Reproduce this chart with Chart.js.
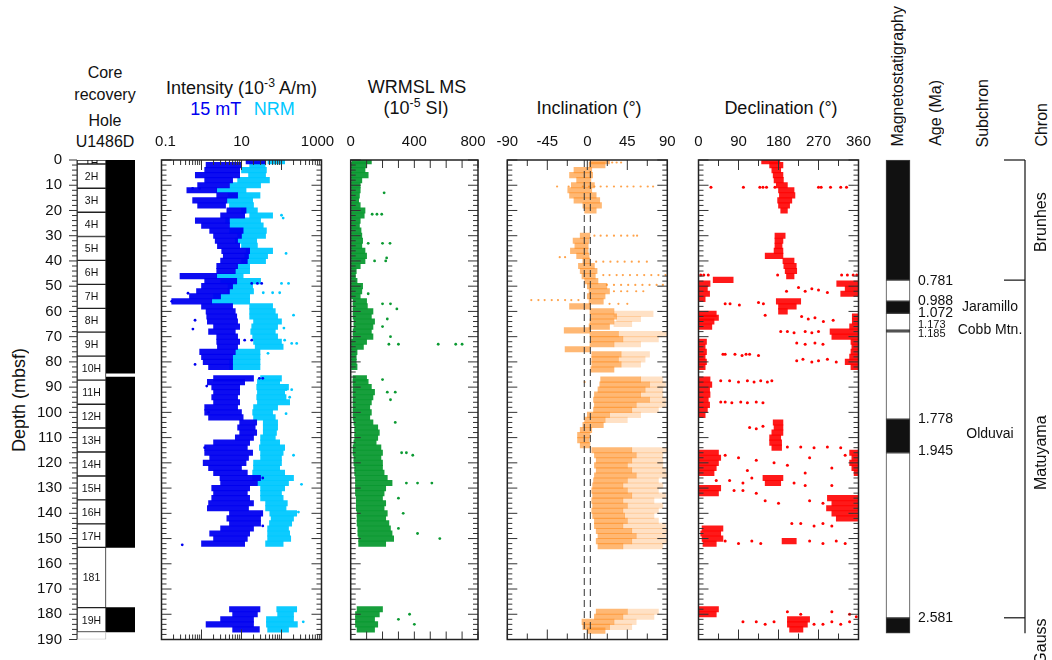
<!DOCTYPE html>
<html>
<head>
<meta charset="utf-8">
<script src="https://cdn.jsdelivr.net/npm/chart.js@4.4.0/dist/chart.umd.min.js"></script>
<style>
body { margin: 0; background: #fff; }
#wrap { position: relative; width: 1052px; height: 660px; overflow: hidden; font-family: "Liberation Sans", Arial, sans-serif; color: #111; }
canvas { position: absolute; top: 0; }
.t { position: absolute; transform: translate(-50%, -50%); white-space: nowrap; font-size: 18px; }
.s { font-size: 16px; }
.v { position: absolute; writing-mode: vertical-rl; transform: rotate(180deg); white-space: nowrap; font-size: 16px; line-height: 20px; }
sup { font-size: 0.68em; vertical-align: 0.5em; line-height: 0; }
</style>
</head>
<body>
<div id="wrap">
  <div class="t s" style="left:105px;top:73px">Core</div>
  <div class="t s" style="left:105px;top:95px">recovery</div>
  <div class="t s" style="left:105px;top:121px">Hole</div>
  <div class="t s" style="left:105px;top:142px">U1486D</div>
  <div class="t" style="left:241.5px;top:88px">Intensity (10<sup>-3</sup> A/m)</div>
  <div class="t" style="left:215.7px;top:109px;color:#0000f0">15 mT</div>
  <div class="t" style="left:274.3px;top:109px;color:#00c8ff">NRM</div>
  <div class="t" style="left:417px;top:87px">WRMSL MS</div>
  <div class="t" style="left:416px;top:108px">(10<sup>-5</sup> SI)</div>
  <div class="t" style="left:589px;top:108px">Inclination (°)</div>
  <div class="t" style="left:781px;top:108px">Declination (°)</div>
  <div class="v" style="left:888px;bottom:513px">Magnetostatigraphy</div>
  <div class="v" style="left:926px;bottom:514px">Age (Ma)</div>
  <div class="v" style="left:973px;bottom:513px">Subchron</div>
  <div class="v" style="left:1031.5px;bottom:513px">Chron</div>
  <div class="v" style="left:8px;top:300px;height:200px;text-align:center;font-size:18px;line-height:22px">Depth (mbsf)</div>

  <canvas id="core" width="150" height="660" style="left:0px"></canvas>
  <canvas id="inten" width="200" height="660" style="left:140px"></canvas>
  <canvas id="ms" width="170" height="660" style="left:330px"></canvas>
  <canvas id="inc" width="190" height="660" style="left:490px"></canvas>
  <canvas id="dec" width="195" height="660" style="left:680px"></canvas>
  <canvas id="strat" width="192" height="660" style="left:860px"></canvas>
</div>

<script>
const FONT = '"Liberation Sans", Arial, sans-serif'

// ---- depth axis / cores ----
const depthLabels = [0, 10, 20, 30, 40, 50, 60, 70, 80, 90, 100, 110, 120, 130, 140, 150, 160, 170, 180, 190]
const coreNames = ['1H', '2H', '3H', '4H', '5H', '6H', '7H', '8H', '9H', '10H', '11H', '12H', '13H', '14H', '15H', '16H', '17H', '181', '19H', '']
const coreTops = [0, 1.6, 11.2, 20.7, 30.3, 39.8, 49.3, 58.8, 68.2, 77.7, 87.2, 96.8, 106.2, 115.7, 125.2, 134.7, 144.2, 153.5, 177.4, 187]
const coreBottoms = [1.6, 11.2, 20.7, 30.3, 39.8, 49.3, 58.8, 68.2, 77.7, 87.2, 96.8, 106.2, 115.7, 125.2, 134.7, 144.2, 153.5, 177.4, 187, 190]
const recovered = [[0, 84.5], [86, 153.5], [177.4, 187]]

// ---- intensity (10^-3 A/m): [depth, low, high] ----
const int15mT = [
  [0.5, 13, 40], [2, 1.3, 10], [4, 1.2, 9], [6, 0.7, 9], [8, 1.2, 6], [10, 0.8, 5], [12, 0.43, 2.4], [14, 2.4, 8],
  [16, 0.6, 4.3], [18, 0.8, 4], [20, 4.3, 13], [22, 3, 12], [24, 0.7, 5], [26, 1, 5], [28, 1.6, 11], [30, 2, 10],
  [32, 2.2, 8], [34, 2.5, 9], [36, 3.2, 16], [38, 3.5, 15], [40, 3, 14], [42, 2.4, 8], [44, 2.4, 7], [46, 0.29, 2.4],
  [48, 1.2, 7.6], [50, 1, 6], [52, 0.75, 5], [54, 0.5, 3], [56, 0.18, 1.8], [58, 1, 6], [60, 1.3, 7], [62, 1.35, 7.6],
  [64, 1.4, 8], [66, 2, 9], [68, 1.5, 7], [70, 2.4, 8], [72, 2.4, 9], [74, 2.5, 8], [76, 0.9, 7], [78, 1, 6],
  [80, 1.1, 6], [82, 1.5, 6],
  [86.5, 2, 20], [88, 1.4, 12], [90, 1.8, 9], [92, 2, 9], [94, 1.8, 8], [96, 2, 9], [98, 1.2, 8], [100, 1.2, 10],
  [102, 1.5, 11], [104, 9, 24], [106, 8, 22], [108, 9, 24], [110, 7, 20], [112, 2, 16], [114, 1.2, 14], [116, 1.2, 19],
  [118, 1.6, 15], [120, 1.1, 13], [122, 1.5, 10], [124, 2, 14], [126, 2.9, 30], [128, 3, 25], [130, 1.8, 16], [132, 2, 14],
  [134, 1.8, 16], [136, 1.5, 20], [138, 1.4, 15], [140, 5, 34], [142, 4.3, 30], [144, 5, 30], [146, 3, 20], [148, 1.6, 16],
  [150, 2, 14], [152, 1, 12],
  [178, 5, 29], [180, 6, 25], [182, 3, 20], [184, 1.3, 20], [186, 6, 28]
]
const intNRM = [
  [0.5, 46, 120], [2, 16, 39], [4, 10, 42], [6, 15, 40], [8, 8, 50], [10, 5, 30], [12, 2.4, 13], [14, 4.6, 29],
  [16, 4.3, 19], [18, 5, 20], [20, 10, 25], [22, 16, 60], [24, 4, 30], [26, 5, 35], [28, 5, 42], [30, 8, 40],
  [32, 7, 24], [34, 10, 25], [36, 13, 60], [38, 12, 45], [40, 10, 40], [42, 7.6, 16], [44, 7, 16], [46, 2.4, 11],
  [48, 3, 30], [50, 4.6, 19], [52, 4.6, 20], [54, 2, 16], [56, 1.8, 16], [58, 16, 60], [60, 16, 70], [62, 16, 80],
  [64, 20, 100], [66, 18, 80], [68, 17, 70], [70, 19, 80], [72, 20, 100], [74, 22, 110], [76, 7, 29], [78, 6, 29],
  [80, 5, 29], [82, 5, 29],
  [86.5, 30, 100], [88, 25, 90], [90, 24, 150], [92, 25, 120], [94, 24, 130], [96, 25, 160], [98, 20, 80], [100, 19, 60],
  [102, 20, 70], [104, 35, 80], [106, 35, 80], [108, 35, 75], [110, 30, 70], [112, 30, 90], [114, 28, 120], [116, 30, 110],
  [118, 30, 100], [120, 20, 100], [122, 20, 90], [124, 19, 120], [126, 19, 200], [128, 25, 150], [130, 30, 120], [132, 30, 100],
  [134, 30, 110], [136, 40, 140], [138, 40, 130], [140, 51, 240], [142, 55, 200], [144, 50, 180], [146, 45, 150], [148, 45, 160],
  [150, 45, 170], [152, 40, 110],
  [178, 76, 240], [180, 80, 200], [182, 42, 200], [184, 42, 250], [186, 45, 150]
]
const int15mTDots = [
  [11.3, 0.6], [11.3, 0.9], [52.8, 0.46], [56, 0.18], [63.5, 0.69], [67, 0.61], [81, 0.69], [89.6, 1.35], [100, 1.5],
  [114, 1.2], [152.5, 0.33], [48.9, 18], [48.9, 25], [48.9, 32], [71.4, 12], [71.4, 18], [86.5, 28], [86.5, 34], [126, 34], [145, 34]
]
const intNRMDots = [
  [21.9, 100], [23, 110], [37, 130], [48.9, 100], [48.9, 150], [52.6, 35], [52.6, 60], [52.6, 90], [61.5, 200], [66.6, 115],
  [71.4, 120], [72.7, 180], [72.7, 240], [76.6, 46], [91, 130], [91, 180], [94, 160], [100.5, 130], [117, 200], [128.5, 316],
  [139.5, 265], [183, 350]
]

// ---- WRMSL MS (10^-5 SI): [depth, low, high] ----
const msRows = [
  [0.5, 10, 130], [2, 5, 100], [4, 5, 90], [6, 5, 110], [8, 5, 70], [10, 5, 60], [12, 5, 60], [14, 5, 55],
  [16, 5, 50], [18, 5, 60], [20, 5, 90], [22, 5, 85], [24, 5, 60], [26, 5, 55], [28, 5, 65], [30, 5, 70],
  [32, 5, 75], [34, 5, 70], [36, 5, 90], [38, 5, 100], [40, 5, 90], [42, 5, 60], [44, 5, 35], [46, 5, 30],
  [48, 5, 40], [50, 5, 75], [52, 5, 70], [54, 5, 60], [56, 15, 100], [58, 15, 105], [60, 15, 140], [62, 15, 130],
  [64, 20, 150], [66, 20, 140], [68, 15, 130], [70, 15, 140], [72, 5, 100], [74, 5, 80], [76, 5, 40], [78, 5, 35],
  [80, 5, 35], [82, 5, 40],
  [86.5, 15, 100], [88, 15, 110], [90, 15, 130], [92, 15, 150], [94, 15, 140], [96, 15, 130], [98, 15, 120], [100, 15, 130],
  [102, 15, 120], [104, 20, 140], [106, 25, 170], [108, 25, 180], [110, 25, 170], [112, 20, 160], [114, 15, 190], [116, 15, 200],
  [118, 20, 190], [120, 20, 200], [122, 25, 200], [124, 25, 210], [126, 30, 230], [128, 30, 260], [130, 30, 220], [132, 30, 210],
  [134, 35, 200], [136, 35, 220], [138, 35, 210], [140, 40, 230], [142, 40, 220], [144, 40, 240], [146, 45, 250], [148, 45, 260],
  [150, 50, 270], [152, 50, 220],
  [178, 40, 200], [180, 30, 180], [182, 30, 150], [184, 30, 170], [186, 40, 150]
]
const msDots = [
  [13, 210], [21.5, 135], [21.5, 165], [21.5, 195], [38.8, 226], [33, 110], [33, 200], [33, 247], [40, 150], [40, 220],
  [53, 110], [57, 200], [57, 250], [59, 290], [63, 230], [66, 200], [70, 250], [73, 550], [73, 660], [73, 700], [73, 300],
  [73, 240], [87, 200], [92, 230], [92, 280], [95, 250], [104, 280], [116, 320], [116, 350], [117, 390], [128, 350],
  [128, 420], [128, 510], [134, 300], [140, 330], [146, 300], [148, 420], [150, 560], [180, 370], [182, 300], [184, 400]
]

// ---- inclination (°) ----
const incDense = [
  [0.5, 3, 25], [2, 2, 20], [4, -15, 5], [6, -20, 6], [8, -12, 4], [10, -18, 8], [12, -22, 5], [14, -20, 10], [16, -15, 14],
  [18, -5, 16], [20, -3, 10],
  [30, -8, 3], [32, -16, 2], [34, -14, 1], [36, -19, 1], [38, -12, 2], [40, -5, 3], [42, -10, 8], [44, -8, 11], [46, -6, 9],
  [48, -3, 12], [50, 0, 22], [52, 2, 25], [54, 0, 20], [56, 2, 18], [58, -20, 3], [60, 3, 30], [62, 4, 33], [64, 3, 30],
  [66, 2, 25], [67.5, -26, 3], [69, 3, 35], [71, 4, 40], [73, 3, 30], [75, -25, 3], [77, 5, 38], [79, 5, 35], [81, 5, 38],
  [83, 4, 30],
  [87, 15, 60], [89, 14, 70], [91, 12, 65], [93, 8, 60], [95, 7, 70], [97, 8, 55], [99, 7, 50], [101, 0, 25], [103, -3, 20],
  [105, -5, 18], [107, -8, 5], [109, -11, 3], [111, -11, 2], [113, -8, 3],
  [115, 5, 50], [117, 8, 55], [119, 10, 50], [121, 8, 45], [123, 10, 50], [125, 8, 55], [127, 7, 45], [129, 6, 40], [131, 5, 45],
  [133, 6, 50], [135, 5, 40], [137, 6, 45], [139, 5, 40], [141, 6, 42], [143, 8, 45], [145, 8, 40], [147, 10, 50], [149, 12, 55],
  [151, 10, 50], [153, 12, 40],
  [179, 10, 45], [181, 8, 40], [183, -6, 30], [185, -5, 25], [186.5, 0, 20]
]
const incSparse = [
  [61, 30, 74], [63, 33, 60], [65, 30, 50], [69, 35, 90], [71, 40, 80], [73, 30, 60], [77, 38, 70], [79, 35, 65], [81, 38, 60],
  [87, 60, 85], [89, 70, 88], [91, 65, 85], [93, 60, 85], [95, 70, 88], [97, 55, 88], [99, 50, 80], [101, 25, 60], [103, 20, 45],
  [115, 50, 90], [117, 55, 85], [119, 50, 85], [121, 45, 85], [123, 50, 88], [125, 55, 90], [127, 45, 80], [129, 40, 85],
  [131, 45, 80], [133, 50, 88], [135, 40, 75], [137, 45, 85], [139, 40, 80], [141, 42, 75], [143, 45, 80], [145, 40, 88],
  [147, 50, 90], [149, 55, 88], [151, 50, 90], [153, 40, 85],
  [179, 45, 80], [181, 40, 75], [183, 30, 55], [185, 25, 50]
]
const incDots = [
  [1, 28], [1, 33], [1, 38],
  [10.5, -34], [10.5, -21], [10.5, -5], [10.5, 2], [10.5, 8], [10.5, 15], [10.5, 22], [10.5, 30], [10.5, 38], [10.5, 45],
  [10.5, 52], [10.5, 60], [10.5, 68], [10.5, 74],
  [30, 8], [30, 15], [30, 22], [30, 30], [30, 38], [30, 45], [30, 52], [30, 56],
  [40.3, 10], [40.3, 18], [40.3, 26], [40.3, 34], [40.3, 42], [40.3, 50], [40.3, 58], [40.3, 67],
  [45.6, 18], [45.6, 25], [45.6, 33], [45.6, 40], [45.6, 48], [45.6, 56], [45.6, 64], [45.6, 72], [45.6, 80], [45.6, 88],
  [49.5, 22], [49.5, 30], [49.5, 38], [49.5, 46], [49.5, 54], [49.5, 62], [49.5, 70], [49.5, 78], [49.5, 85],
  [52, 30], [52, 38], [52, 45], [52, 55], [52, 63], [57, 25], [57, 35], [57, 45],
  [55.5, -63], [55.5, -55], [55.5, -48], [55.5, -40], [55.5, -33], [55.5, -25], [55.5, -18], [55.5, -10],
  [38.5, -31], [38.5, -25], [88, -3], [112, 90]
]
const incRefLines = [-3.4, 3.4]

// ---- declination (°) ----
const decDense = [
  [0.5, 142, 183], [2, 160, 190], [4, 165, 185], [6, 168, 190], [8, 170, 191], [10, 175, 200], [12, 180, 215], [14, 182, 217],
  [16, 178, 210], [18, 180, 205], [20, 185, 200],
  [30, 172, 195], [32, 172, 190], [34, 172, 188], [36, 170, 190], [38, 150, 190], [40, 190, 215], [42, 192, 220], [44, 195, 221],
  [46, 198, 215], [47.5, 33, 78],
  [49, 0, 26], [49, 311, 359], [51, 0, 20], [51, 330, 360], [53, 0, 25], [53, 320, 360], [55, 0, 15],
  [56, 175, 230], [58, 180, 220], [60, 180, 200],
  [61, 0, 40], [62.5, 0, 45], [64, 0, 35], [66, 0, 30], [62, 346, 360], [64, 346, 360], [66, 340, 360], [68, 296, 360], [70, 300, 360],
  [72, 0, 18], [74, 0, 15], [76, 0, 18], [78, 0, 15], [80, 0, 18], [82, 0, 15],
  [72, 343, 360], [74, 345, 360], [76, 343, 360], [78, 340, 360], [80, 330, 360], [82, 343, 360],
  [87, 0, 26], [89, 0, 30], [91, 0, 25], [93, 0, 26], [95, 0, 22], [97, 0, 25], [99, 0, 20], [101, 0, 15],
  [104, 168, 190], [106, 170, 190], [108, 165, 190], [110, 160, 185], [112, 160, 187], [114, 165, 187],
  [116, 0, 45], [118, 0, 50], [120, 0, 45], [122, 0, 40], [124, 0, 35],
  [116, 340, 360], [118, 345, 360], [120, 340, 360], [122, 345, 360], [124, 350, 360],
  [126, 145, 190], [128, 150, 185], [130, 0, 50], [132, 0, 45],
  [134, 290, 359], [136, 300, 360], [138, 288, 360], [140, 300, 358], [142, 310, 358],
  [146, 8, 55], [148, 5, 50], [150, 8, 55], [152, 10, 40], [151, 188, 220],
  [178, 0, 45], [180, 0, 40], [182, 200, 250], [184, 200, 245], [186, 205, 235]
]
const decDots = [
  [10.8, 28], [10.8, 101], [10.8, 138], [10.8, 145], [10.8, 153], [10.8, 172], [10.8, 270], [10.8, 276], [10.8, 297], [10.8, 320], [10.8, 333],
  [45.6, 5], [45.6, 12], [45.6, 22], [45.6, 178], [45.6, 322], [45.6, 335], [45.6, 348], [45.6, 356],
  [50.5, 225], [51, 255], [52, 198], [52, 240], [52.5, 290], [51.5, 270],
  [57, 60], [57, 71], [57.5, 92], [56.5, 135], [57, 146],
  [62, 232], [63, 247], [62.5, 262], [64, 281], [63.5, 303], [61.5, 150],
  [68, 185], [68, 200], [68.5, 215], [68, 240], [68.5, 255], [68, 270],
  [72.5, 221], [73, 240], [72.5, 262], [73, 280],
  [77, 55], [77, 60], [77, 82], [77.5, 98], [77, 107], [77, 115], [77.5, 135],
  [79.5, 221], [79, 235], [80, 255], [79.5, 270], [79, 290], [80, 310],
  [87.5, 50], [87.5, 70], [88, 90], [87.5, 110], [88, 125], [87.5, 140], [88, 155], [87.5, 165],
  [95.9, 50], [95.9, 60], [96.2, 75], [95.9, 95], [96.2, 110], [95.9, 130], [96.2, 145],
  [106, 115], [106.5, 130], [105.5, 145],
  [113.7, 200], [113.7, 230], [114, 260], [113.7, 290], [114, 320],
  [117, 60], [118, 90], [119, 130], [120, 170], [121, 200], [118, 250], [122, 300], [117, 330], [123, 110], [124, 240],
  [127, 40], [127, 70], [128, 100], [126, 120], [128, 215], [129, 240], [129, 300],
  [131, 80], [131, 100], [132, 130], [135, 150], [136, 180], [135, 250], [136, 280],
  [144, 210], [144, 230], [145, 260], [144, 280], [145, 300],
  [151, 60], [152, 90], [151, 120], [152, 140], [151, 250], [152, 280], [151, 310], [152, 330],
  [179, 200], [180, 230], [179, 300], [180, 340], [181, 355],
  [183, 100], [183, 130], [184, 150], [183, 170], [184, 260], [184, 280], [183, 300], [184, 320], [183, 340]
]

// ---- magnetostratigraphy ----
const polTops = [0, 47.6, 55.9, 60.8, 67.4, 68.1, 102.7, 116, 181.4]
const polBottoms = [47.6, 55.9, 60.8, 67.4, 68.1, 102.7, 116, 181.4, 187.5]
const polNormal = [true, false, true, false, true, false, true, false, true]
const ageLabels = ['0.781', '0.988', '1.072', '1.173', '1.185', '1.778', '1.945', '2.581']
const ageDepths = [48, 55.9, 60.7, 65.4, 69, 102.7, 115.4, 181.7]
const ageSmall = [false, false, false, true, true, false, false, false]
const subchrons = ['Jaramillo', 'Cobb Mtn.', 'Olduvai']
const subchronDepths = [58.3, 67.4, 108.7]
const chrons = ['Brunhes', 'Matuyama', 'Gauss']
const chronDepths = [24.6, 116, 190.8]
const chronBounds = [0, 47.6, 181.4]

// ---------- helpers ----------
const depthMinor = []
for (let d = 0; d <= 190; d += 2) depthMinor.push(d)

function line(ctx, x1, y1, x2, y2) {
  ctx.beginPath(); ctx.moveTo(x1, y1); ctx.lineTo(x2, y2); ctx.stroke()
}

const frameTicks = {
  id: 'frameTicks',
  afterDatasetsDraw(chart, args, o) {
    const {ctx, chartArea: a, scales: {x, y}} = chart
    ctx.save()
    ctx.strokeStyle = '#333'
    ctx.lineWidth = 1
    depthMinor.forEach(v => {
      const py = y.getPixelForValue(v)
      const len = v % 10 === 0 ? 10 : 5
      line(ctx, a.left, py, a.left + len, py)
      line(ctx, a.right, py, a.right - len, py)
    })
    ;(o.xMinor || []).forEach(v => {
      const px = x.getPixelForValue(v)
      line(ctx, px, a.top, px, a.top + o.minorLen)
      line(ctx, px, a.bottom, px, a.bottom - o.minorLen)
    })
    ;(o.xMajor || []).forEach(v => {
      const px = x.getPixelForValue(v)
      line(ctx, px, a.top, px, a.top + o.majorLen)
      line(ctx, px, a.bottom, px, a.bottom - o.majorLen)
    })
    ;(o.refLines || []).forEach(v => {
      const px = x.getPixelForValue(v)
      ctx.setLineDash([7, 4])
      line(ctx, px, a.top, px, a.bottom)
      ctx.setLineDash([])
    })
    ctx.lineWidth = 1.5
    ctx.strokeStyle = '#222'
    ctx.strokeRect(a.left, a.top, a.right - a.left, a.bottom - a.top)
    ctx.fillStyle = '#111'
    ctx.font = '15px ' + FONT
    ctx.textAlign = 'center'
    ctx.textBaseline = 'middle'
    o.labels.forEach((t, i) => ctx.fillText(t, x.getPixelForValue(o.labelValues[i]) + (o.labelShift ? o.labelShift[i] : 0), 142))
    ctx.restore()
  }
}

function depthScale() {
  return {type: 'linear', display: false, min: 0, max: 190, reverse: true, offset: false}
}

function rangeBars(rows, color, order, thick) {
  return {
    type: 'bar', indexAxis: 'y', grouped: false, clip: 0, order: order,
    data: rows.map(r => ({y: r[0], x: [r[1], r[2]]})),
    backgroundColor: color, borderWidth: 0, barThickness: thick || 5.5
  }
}

function dots(pts, color, order, r) {
  return {
    type: 'scatter', order: order,
    data: pts.map(p => ({y: p[0], x: p[1]})),
    backgroundColor: color, borderWidth: 0, pointRadius: r || 1.3, pointHoverRadius: 0
  }
}

function panel(id, padL, padR, xScale, datasets, decor) {
  return new Chart(document.getElementById(id), {
    type: 'bar',
    data: {datasets: datasets},
    options: {
      responsive: false,
      animation: false,
      events: [],
      layout: {padding: {top: 160, bottom: 20.5, left: padL, right: padR}},
      plugins: {legend: {display: false}, tooltip: {enabled: false}, frameTicks: decor},
      scales: {x: Object.assign({display: false, offset: false}, xScale), y: depthScale()}
    },
    plugins: [frameTicks]
  })
}

// ---------- intensity ----------
const logMinor = []
;[0.1, 1, 10, 100].forEach(dec => { for (let k = 2; k <= 9; k++) logMinor.push(dec * k) })
panel('inten', 21.5, 18.5, {type: 'logarithmic', min: 0.1, max: 1000}, [
  dots(int15mTDots, '#0000f0', 0, 1.4),
  rangeBars(int15mT, 'rgba(0,0,240,0.95)', 1),
  dots(intNRMDots, '#00c8ff', 2, 1.4),
  rangeBars(intNRM, 'rgba(0,200,255,0.95)', 3)
], {xMajor: [0.1, 1, 10, 100, 1000], xMinor: logMinor, majorLen: 10, minorLen: 5,
    labels: ['0.1', '10', '1000'], labelValues: [0.1, 10, 1000], labelShift: [4, 0, -4]})

// ---------- MS ----------
panel('ms', 20.7, 22, {type: 'linear', min: 0, max: 800}, [
  dots(msDots, '#0b9a32', 0, 1.4),
  rangeBars(msRows, 'rgba(11,154,50,0.95)', 1)
], {xMajor: [0, 400, 800], xMinor: [100, 200, 300, 500, 600, 700], majorLen: 8, minorLen: 8,
    labels: ['0', '400', '800'], labelValues: [0, 400, 800], labelShift: [0, 0, -5]})

// ---------- inclination ----------
panel('inc', 17.3, 12.7, {type: 'linear', min: -90, max: 90}, [
  dots(incDots, 'rgba(255,140,30,0.8)', 0, 1.1),
  rangeBars(incDense, 'rgba(255,140,30,0.62)', 1),
  rangeBars(incSparse, 'rgba(255,140,30,0.26)', 2)
], {xMajor: [-90, -45, 0, 45, 90], xMinor: [-67.5, -22.5, 22.5, 67.5], majorLen: 10, minorLen: 6,
    refLines: incRefLines,
    labels: ['-90', '-45', '0', '45', '90'], labelValues: [-90, -45, 0, 45, 90]})

// ---------- declination ----------
panel('dec', 18.5, 16.5, {type: 'linear', min: 0, max: 360}, [
  dots(decDots, '#ff0000', 0, 1.5),
  rangeBars(decDense, 'rgba(255,0,0,0.9)', 1)
], {xMajor: [0, 90, 180, 270, 360], xMinor: [45, 135, 225, 315], majorLen: 10, minorLen: 6,
    labels: ['0', '90', '180', '270', '360'], labelValues: [0, 90, 180, 270, 360]})

// ---------- core recovery + depth axis ----------
const coreDecor = {
  id: 'coreDecor',
  afterDatasetsDraw(chart) {
    const {ctx, chartArea: a, scales: {x, y}} = chart
    ctx.save()
    ctx.strokeStyle = '#333'
    ctx.lineWidth = 1
    line(ctx, a.left, a.top, a.left, a.bottom)
    depthMinor.forEach(v => {
      const py = y.getPixelForValue(v)
      line(ctx, a.left, py, a.left - (v % 10 === 0 ? 8 : 5), py)
    })
    ctx.fillStyle = '#111'
    ctx.font = '15px ' + FONT
    ctx.textAlign = 'right'
    ctx.textBaseline = 'middle'
    depthLabels.forEach(v => ctx.fillText(String(v), 62, y.getPixelForValue(v)))
    ctx.font = '10.5px ' + FONT
    ctx.textAlign = 'center'
    const cx = x.getPixelForValue(0)
    coreNames.forEach((n, i) => {
      const t = y.getPixelForValue(coreTops[i]), b = y.getPixelForValue(coreBottoms[i])
      ctx.save()
      ctx.beginPath(); ctx.rect(a.left, t, 29, b - t); ctx.clip()
      ctx.fillText(n, cx, (t + b) / 2 + 1)
      ctx.restore()
    })
    ctx.restore()
  }
}
new Chart(document.getElementById('core'), {
  type: 'bar',
  data: {
    datasets: [
      {
        grouped: false, clip: 0,
        data: coreNames.map((n, i) => ({x: 'hole', y: [coreTops[i], coreBottoms[i]]})),
        backgroundColor: '#fff', borderColor: coreNames.map((n, i) => i === coreNames.length - 1 ? '#bbb' : '#222'),
        borderWidth: 1, borderSkipped: false, barPercentage: 1, categoryPercentage: 1
      },
      {
        grouped: false, clip: 0,
        data: recovered.map(r => ({x: 'rec', y: r})),
        backgroundColor: '#000', borderWidth: 0, barPercentage: 1, categoryPercentage: 1
      }
    ]
  },
  options: {
    responsive: false, animation: false, events: [],
    layout: {padding: {top: 160, bottom: 20.5, left: 77, right: 15}},
    plugins: {legend: {display: false}, tooltip: {enabled: false}},
    scales: {x: {type: 'category', labels: ['hole', 'rec'], display: false}, y: depthScale()}
  },
  plugins: [coreDecor]
})

// ---------- magnetostratigraphy, age, subchron, chron ----------
const stratDecor = {
  id: 'stratDecor',
  afterDatasetsDraw(chart) {
    const {ctx, scales: {y}} = chart
    ctx.save()
    ctx.fillStyle = '#111'
    ctx.textBaseline = 'middle'
    ctx.textAlign = 'left'
    ageLabels.forEach((t, i) => {
      ctx.font = (ageSmall[i] ? '11px ' : '14px ') + FONT
      ctx.fillText(t, 58, y.getPixelForValue(ageDepths[i]))
    })
    ctx.font = '14px ' + FONT
    ctx.textAlign = 'center'
    subchrons.forEach((t, i) => ctx.fillText(t, 130, y.getPixelForValue(subchronDepths[i])))
    ctx.strokeStyle = '#111'
    ctx.lineWidth = 1.2
    line(ctx, 165, y.getPixelForValue(0), 165, y.getPixelForValue(polBottoms[polBottoms.length - 1]))
    chronBounds.forEach(d => line(ctx, 144, y.getPixelForValue(d), 165, y.getPixelForValue(d)))
    ctx.font = '16px ' + FONT
    chrons.forEach((t, i) => {
      ctx.save()
      ctx.translate(181.5, y.getPixelForValue(chronDepths[i]))
      ctx.rotate(-Math.PI / 2)
      ctx.fillText(t, 0, 0)
      ctx.restore()
    })
    ctx.restore()
  }
}
new Chart(document.getElementById('strat'), {
  type: 'bar',
  data: {
    datasets: [{
      grouped: false, clip: 2,
      data: polTops.map((t, i) => ({x: 'pol', y: [t, polBottoms[i]]})),
      backgroundColor: polNormal.map(n => n ? '#111' : '#fff'),
      borderColor: '#444', borderWidth: 1, borderSkipped: false, barPercentage: 1, categoryPercentage: 1
    }]
  },
  options: {
    responsive: false, animation: false, events: [],
    layout: {padding: {top: 160, bottom: 20.5, left: 26, right: 142}},
    plugins: {legend: {display: false}, tooltip: {enabled: false}},
    scales: {x: {type: 'category', labels: ['pol'], display: false}, y: depthScale()}
  },
  plugins: [stratDecor]
})
</script>
</body>
</html>
